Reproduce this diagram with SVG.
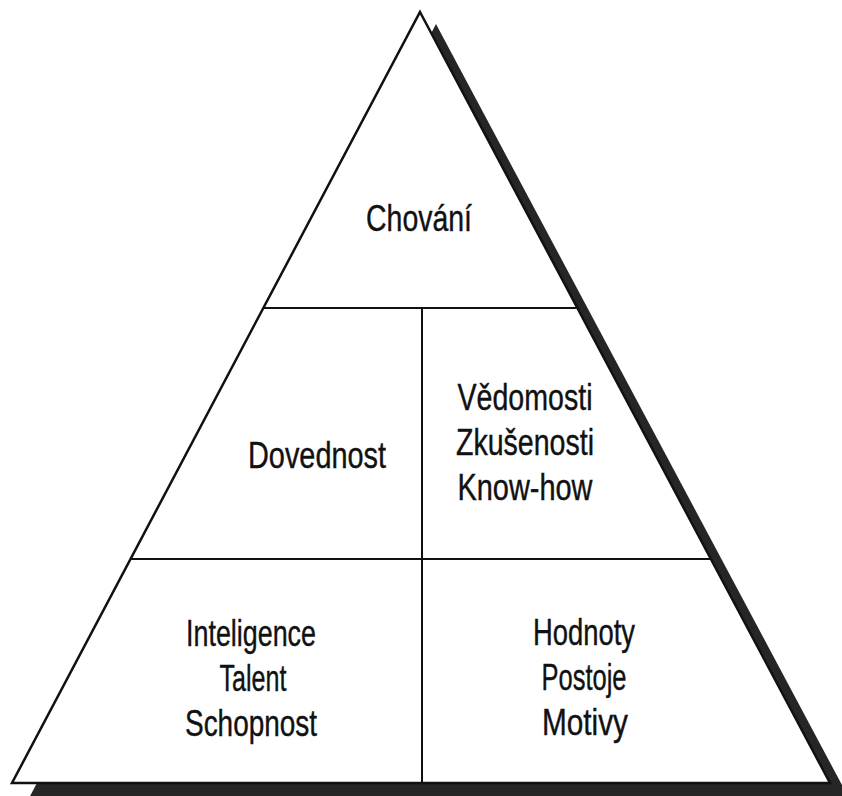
<svg xmlns="http://www.w3.org/2000/svg" width="842" height="796" viewBox="0 0 842 796">
<style>
.edge{fill:#fff;stroke:#111;stroke-width:2.5;stroke-linejoin:miter}
.div{stroke:#111;stroke-width:2;fill:none}
.t{font-family:"Liberation Sans",Arial,sans-serif;font-size:36px;fill:#111;stroke:#111;stroke-width:0.4;text-anchor:middle}
</style>
<rect width="842" height="796" fill="#fff"/>
<g id="pyramid">
<polygon points="436,24 850,800 28,800" fill="#262626"/>
<polygon class="edge" points="420,12 830,783 12,783"/>
</g>
<g id="connectors">
<line class="div" x1="264" y1="308" x2="578" y2="308"/>
<line class="div" x1="131" y1="559" x2="711" y2="559"/>
<line class="div" x1="422" y1="308" x2="422" y2="783"/>
</g>
<g id="chovani">
<text class="t" x="419" y="231" textLength="106" lengthAdjust="spacingAndGlyphs">Chování</text>
</g>
<g id="dovednost">
<text class="t" x="317" y="468" textLength="138" lengthAdjust="spacingAndGlyphs">Dovednost</text>
</g>
<g id="vedomosti">
<text class="t" x="525" y="410" textLength="135" lengthAdjust="spacingAndGlyphs">Vědomosti</text>
<text class="t" x="525" y="455" textLength="138" lengthAdjust="spacingAndGlyphs">Zkušenosti</text>
<text class="t" x="525" y="500" textLength="135" lengthAdjust="spacingAndGlyphs">Know-how</text>
</g>
<g id="inteligence">
<text class="t" x="251" y="646" textLength="130" lengthAdjust="spacingAndGlyphs">Inteligence</text>
<text class="t" x="253" y="691" textLength="67" lengthAdjust="spacingAndGlyphs">Talent</text>
<text class="t" x="251" y="736" textLength="132" lengthAdjust="spacingAndGlyphs">Schopnost</text>
</g>
<g id="hodnoty">
<text class="t" x="584" y="645" textLength="102" lengthAdjust="spacingAndGlyphs">Hodnoty</text>
<text class="t" x="584" y="690" textLength="85" lengthAdjust="spacingAndGlyphs">Postoje</text>
<text class="t" x="585" y="735" textLength="86" lengthAdjust="spacingAndGlyphs">Motivy</text>
</g>
</svg>
